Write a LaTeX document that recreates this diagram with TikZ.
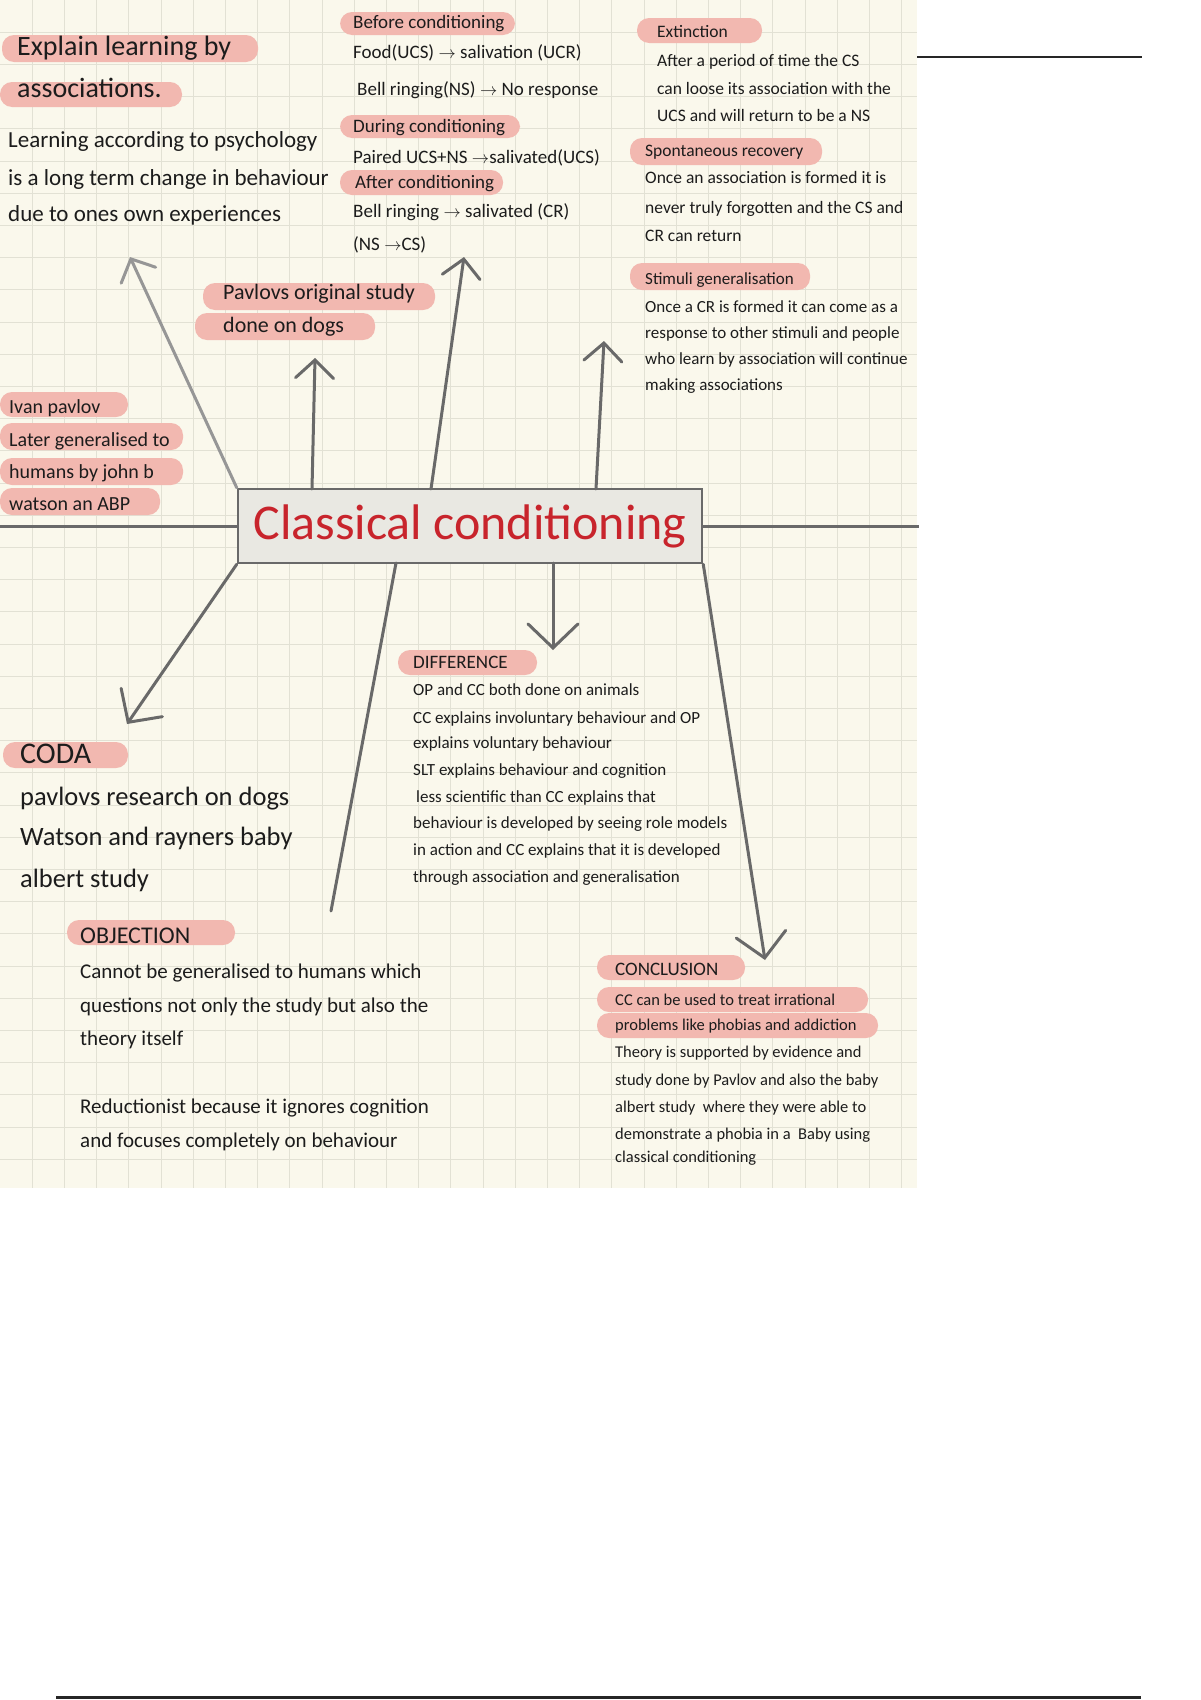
\documentclass[tikz,border=0pt]{standalone}
\usepackage{fontspec}
\setmainfont{Carlito}
\usetikzlibrary{arrows.meta}
\definecolor{paper}{RGB}{250,248,236}
\definecolor{gridc}{RGB}{226,225,212}
\definecolor{pillc}{RGB}{242,184,176}
\definecolor{linec}{RGB}{105,105,105}
\definecolor{lightline}{RGB}{150,150,150}
\definecolor{titlec}{RGB}{200,36,44}
\definecolor{boxc}{RGB}{233,232,226}
\definecolor{ink}{RGB}{28,28,28}
\newcommand\myfs[1]{\fontsize{#1}{#1}\selectfont}
\begin{document}
\begin{tikzpicture}[x=1pt,y=-1pt,
  txt/.style={anchor=base west, inner sep=0pt, text=ink},
  fA/.style={txt, font=\myfs{28}},
  fAb/.style={txt, font=\myfs{23}},
  fB/.style={txt, font=\myfs{19}},
  fC/.style={txt, font=\myfs{17.5}},
  fD/.style={txt, font=\myfs{17}},
  fE/.style={txt, font=\myfs{22}},
  fF/.style={txt, font=\myfs{20}},
  fGh/.style={txt, font=\myfs{30}},
  fG/.style={txt, font=\myfs{26.5}},
  fHh/.style={txt, font=\myfs{24}},
  fH/.style={txt, font=\myfs{21}},
  fIh/.style={txt, font=\myfs{19}},
  fI/.style={txt, font=\myfs{17}},
  fJ/.style={txt, font=\myfs{16.5}},
  pill/.style={fill=pillc, rounded corners=12pt},
  arr/.style={draw=linec, line width=3pt, line cap=round,
    -{Straight Barb[length=18pt,width=38pt,line cap=round]}},
  bigarr/.style={draw=linec, line width=3pt, line cap=round,
    -{Straight Barb[length=24pt,width=50pt,line cap=round]}},
  plain/.style={draw=linec, line width=3pt, line cap=round},
  titlebox/.style={draw=linec, line width=2.5pt, fill=boxc, text=titlec,
    minimum width=464pt, minimum height=74pt, inner sep=0pt,
    font=\myfs{50}}
]
\useasboundingbox (0,0) rectangle (1200,1700);
\fill[white] (0,0) rectangle (1200,1700);
% paper with grid
\fill[paper] (0,0) rectangle (917,1188);
\foreach \i in {1,...,28} \draw[gridc, line width=1pt] (\i*32.2,0) -- (\i*32.2,1188);
\foreach \j in {1,...,36} \draw[gridc, line width=1pt] (0,\j*32.2) -- (917,\j*32.2);
% rules outside the paper
\draw[black!85, line width=2.5pt] (917,57) -- (1142,57);
\draw[black!85, line width=3pt] (56,1697) -- (1141,1697);

% highlight pills
\fill[pill] (2,35) rectangle (258,62);
\fill[pill] (0,82) rectangle (182,107);
\fill[pill] (340,12) rectangle (515,35);
\fill[pill] (340,115) rectangle (520,138);
\fill[pill] (340,170) rectangle (503,195);
\fill[pill] (637,18) rectangle (762,43);
\fill[pill] (630,138) rectangle (822,165);
\fill[pill] (630,263) rectangle (810,290);
\fill[pill] (203,283) rectangle (435,310);
\fill[pill] (195,313) rectangle (375,340);
\fill[pill] (0,392) rectangle (128,417);
\fill[pill] (0,423) rectangle (183,450);
\fill[pill] (0,458) rectangle (183,485);
\fill[pill] (0,488) rectangle (160,515);
\fill[pill] (3,742) rectangle (128,768);
\fill[pill] (67,920) rectangle (235,945);
\fill[pill] (398,650) rectangle (537,675);
\fill[pill] (597,955) rectangle (745,980);
\fill[pill] (597,987) rectangle (868,1012);
\fill[pill] (597,1013) rectangle (878,1038);

% central node
\node[titlebox] (cc) at (470,526) {Classical conditioning};
\coordinate (wl) at (0,526);
\coordinate (wr) at (919,526);
\draw[plain, line cap=butt] (wl) -- (cc.west);
\draw[plain, line cap=butt] (cc.east) -- (wr);

% connector ends
\coordinate (s2) at (312,489);
\coordinate (s3) at (431,489);
\coordinate (s4) at (596,489);
\coordinate (s6) at (396,563);
\coordinate (s7) at (553,563);
\coordinate (e1) at (130,257);
\coordinate (e2) at (315,358);
\coordinate (e3) at (464,257);
\coordinate (e4) at (604,341);
\coordinate (e5) at (127,724);
\coordinate (e6) at (331,911);
\coordinate (e7) at (553,650);
\coordinate (e8) at (765,960);
\draw[arr, draw=lightline] (cc.north west) -- (e1);
\draw[arr] (s2) -- (e2);
\draw[arr] (s3) -- (e3);
\draw[arr] (s4) -- (e4);
\draw[bigarr] (cc.south west) -- (e5);
\draw[plain] (s6) -- (e6);
\draw[bigarr] (s7) -- (e7);
\draw[bigarr] (cc.south east) -- (e8);

% block A
\node[fA] (a1) at (17,55) {Explain learning by};
\node[fA] (a2) at (17,97) {associations.};
\node[fAb] (a3) at (8,147) {Learning according to psychology};
\node[fAb] (a4) at (8,185) {is a long term change in behaviour};
\node[fAb] (a5) at (8,221) {due to ones own experiences};

% block B
\node[fB] (b1) at (353,28) {Before conditioning};
\node[fB] (b2) at (353,58) {Food(UCS) $\rightarrow$ salivation (UCR)};
\node[fB] (b3) at (357,95) {Bell ringing(NS) $\rightarrow$ No response};
\node[fB] (b4) at (353,132) {During conditioning};
\node[fB] (b5) at (353,163) {Paired UCS+NS $\rightarrow$salivated(UCS)};
\node[fB] (b6) at (355,188) {After conditioning};
\node[fB] (b7) at (353,217) {Bell ringing $\rightarrow$ salivated (CR)};
\node[fB] (b8) at (353,250) {(NS $\rightarrow$CS)};

% block C
\node[fC] (c1) at (657,37) {Extinction};
\node[fC] (c2) at (657,66) {After a period of time the CS};
\node[fC] (c3) at (657,94) {can loose its association with the};
\node[fC] (c4) at (657,121) {UCS and will return to be a NS};
\node[fC] (c5) at (645,156) {Spontaneous recovery};
\node[fC] (c6) at (645,183) {Once an association is formed it is};
\node[fC] (c7) at (645,213) {never truly forgotten and the CS and};
\node[fC] (c8) at (645,241) {CR can return};

% block D
\node[fD] (d1) at (645,284) {Stimuli generalisation};
\node[fD] (d2) at (645,312) {Once a CR is formed it can come as a};
\node[fD] (d3) at (645,338) {response to other stimuli and people};
\node[fD] (d4) at (645,364) {who learn by association will continue};
\node[fD] (d5) at (645,390) {making associations};

% block E
\node[fE] (p1) at (223,299) {Pavlovs original study};
\node[fE] (p2) at (223,332) {done on dogs};

% block F
\node[fF] (i1) at (9,413) {Ivan pavlov};
\node[fF] (i2) at (9,446) {Later generalised to};
\node[fF] (i3) at (9,478) {humans by john b};
\node[fF] (i4) at (9,510) {watson an ABP};

% block G
\node[fGh] (g1) at (20,763) {CODA};
\node[fG] (g2) at (20,805) {pavlovs research on dogs};
\node[fG] (g3) at (20,845) {Watson and rayners baby};
\node[fG] (g4) at (20,887) {albert study};

% block H
\node[fHh] (h1) at (80,943) {OBJECTION};
\node[fH] (h2) at (80,978) {Cannot be generalised to humans which};
\node[fH] (h3) at (80,1012) {questions not only the study but also the};
\node[fH] (h4) at (80,1045) {theory itself};
\node[fH] (h5) at (80,1113) {Reductionist because it ignores cognition};
\node[fH] (h6) at (80,1147) {and focuses completely on behaviour};

% block I
\node[fIh] (k1) at (413,668) {DIFFERENCE};
\node[fI] (k2) at (413,695) {OP and CC both done on animals};
\node[fI] (k3) at (413,723) {CC explains involuntary behaviour and OP};
\node[fI] (k4) at (413,748) {explains voluntary behaviour};
\node[fI] (k5) at (413,775) {SLT explains behaviour and cognition};
\node[fI] (k6) at (416,802) {less scientific than CC explains that};
\node[fI] (k7) at (413,828) {behaviour is developed by seeing role models};
\node[fI] (k8) at (413,855) {in action and CC explains that it is developed};
\node[fI] (k9) at (413,882) {through association and generalisation};

% block J
\node[fIh] (j1) at (615,975) {CONCLUSION};
\node[fJ] (j2) at (615,1005) {CC can be used to treat irrational};
\node[fJ] (j3) at (615,1030) {problems like phobias and addiction};
\node[fJ] (j4) at (615,1057) {Theory is supported by evidence and};
\node[fJ] (j5) at (615,1085) {study done by Pavlov and also the baby};
\node[fJ] (j6) at (615,1112) {albert study\ \ where they were able to};
\node[fJ] (j7) at (615,1139) {demonstrate a phobia in a\ \ Baby using};
\node[fJ] (j8) at (615,1162) {classical conditioning};
\end{tikzpicture}
\end{document}
